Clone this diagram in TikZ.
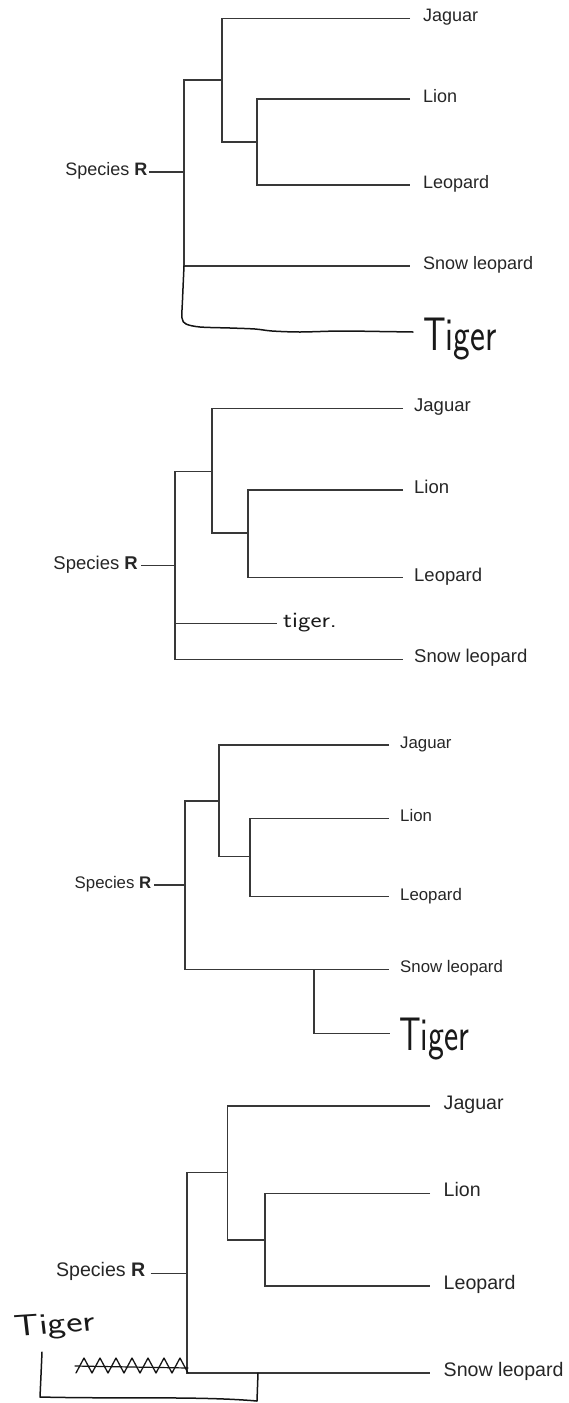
\documentclass[tikz,border=0pt]{standalone}
\usepackage{fontspec}
\setmainfont{Liberation Sans}
\newcommand{\labsz}[1]{\fontsize{#1}{#1}\selectfont}
\tikzset{
  tree/.style={line width=1.2pt, draw=black!78},
  hand/.style={line width=1.5pt, draw=black!92, line cap=round, line join=round},
  leaf/.style={anchor=west, inner ysep=0pt, text height=0.716em, text depth=0pt, text=black!85},
  spec/.style={anchor=east, inner ysep=0pt, text height=0.716em, text depth=0pt, text=black!85},
  handtxt/.style={inner sep=0pt, anchor=base west, text=black!90},
}
\begin{document}
\begin{tikzpicture}[x=1pt,y=-1pt]
\useasboundingbox (0,0) rectangle (569,1403);

% ---------- Panel 1 ----------
\begin{scope}[every node/.append style={font=\labsz{18}}]
\node[leaf, inner xsep=13pt] (a-jag)  at (410,18.3) {Jaguar};
\node[leaf, inner xsep=13pt] (a-lion) at (410,99)   {Lion};
\node[leaf, inner xsep=13pt] (a-leo)  at (410,185)  {Leopard};
\node[leaf, inner xsep=13pt] (a-snow) at (410,266)  {Snow leopard};
\node[spec, inner xsep=1.5pt] (a-sp)  at (149,172)  {Species \textbf{R}};
\end{scope}
\coordinate (a-j) at (222,142);
\coordinate (a-l) at (257,142);
\coordinate (a-t) at (222,80);
\coordinate (a-s) at (184,266);
\draw[tree] (a-jag.west) -| (a-j) -- (a-l);
\draw[tree] (a-lion.west) -| (a-l) |- (a-leo.west);
\draw[tree] (a-t) -| (a-s) -- (a-snow.west);
\draw[tree] (a-sp.east) -- (a-sp.east -| a-s);
\coordinate (a-te) at (413,332);
\node[handtxt, font=\sffamily\labsz{47}, xscale=0.755] (a-tiger) at (423,350) {Tiger};
\draw[hand] plot[smooth, tension=0.5] coordinates {(a-s) (182.5,300) (182,318) (186,324) (200,327) (230,328) (255,329) (272,331) (300,332) (340,331) (380,331.5) (a-te)};

% ---------- Panel 2 ----------
\begin{scope}[every node/.append style={font=\labsz{18.5}}]
\node[leaf, inner xsep=11pt] (b-jag)  at (403,408.3) {Jaguar};
\node[leaf, inner xsep=11pt] (b-lion) at (403,490)   {Lion};
\node[leaf, inner xsep=11pt] (b-leo)  at (403,577.7) {Leopard};
\node[leaf, inner xsep=11pt] (b-snow) at (403,659.3) {Snow leopard};
\node[spec, inner xsep=3pt] (b-sp)    at (141,565.7) {Species \textbf{R}};
\end{scope}
\coordinate (b-j) at (212,533);
\coordinate (b-l) at (248,533);
\coordinate (b-t) at (212,471.7);
\coordinate (b-s) at (175,659.3);
\draw[tree] (b-jag.west) -| (b-j) -- (b-l);
\draw[tree] (b-lion.west) -| (b-l) |- (b-leo.west);
\draw[tree] (b-t) -| (b-s) -- (b-snow.west);
\draw[tree] (b-sp.east) -- (b-sp.east -| b-s);
\coordinate (b-tg) at (175,623.3);
\coordinate (b-te) at (277,623.3);
\draw[tree] (b-tg) -- (b-te);
\node[handtxt, font=\sffamily\labsz{22}, xscale=1.2] (b-tiger) at (283,627) {tiger.};

% ---------- Panel 3 ----------
\begin{scope}[every node/.append style={font=\labsz{16.8}}]
\node[leaf, inner xsep=11pt] (c-jag)  at (389,745)   {Jaguar};
\node[leaf, inner xsep=11pt] (c-lion) at (389,818.3) {Lion};
\node[leaf, inner xsep=11pt] (c-leo)  at (389,896.7) {Leopard};
\node[leaf, inner xsep=11pt] (c-snow) at (389,969.3) {Snow leopard};
\node[spec, inner xsep=2.5pt] (c-sp)  at (154,885)   {Species \textbf{R}};
\end{scope}
\coordinate (c-j) at (219,856.7);
\coordinate (c-l) at (250,856.7);
\coordinate (c-t) at (219,801);
\coordinate (c-s) at (185,969.3);
\draw[tree] (c-jag.west) -| (c-j) -- (c-l);
\draw[tree] (c-lion.west) -| (c-l) |- (c-leo.west);
\draw[tree] (c-t) -| (c-s) -- (c-snow.west);
\draw[tree] (c-sp.east) -- (c-sp.east -| c-s);
\coordinate (c-h) at (314,969.3);
\coordinate (c-he) at (390,1033.3);
\draw[tree, line width=1.4pt] (c-h) |- (c-he);
\node[handtxt, font=\sffamily\labsz{47}, xscale=0.72] (c-tiger) at (399,1050) {Tiger};

% ---------- Panel 4 ----------
\begin{scope}[every node/.append style={font=\labsz{19.6}}]
\node[leaf, inner xsep=13.5pt] (d-jag)  at (430,1106)   {Jaguar};
\node[leaf, inner xsep=13.5pt] (d-lion) at (430,1193.3) {Lion};
\node[leaf, inner xsep=13.5pt] (d-leo)  at (430,1286)   {Leopard};
\node[leaf, inner xsep=13.5pt] (d-snow) at (430,1373)   {Snow leopard};
\node[spec, inner xsep=5pt] (d-sp)      at (150.6,1273.3) {Species \textbf{R}};
\end{scope}
\coordinate (d-j) at (227.5,1240);
\coordinate (d-l) at (265,1240);
\coordinate (d-t) at (227.5,1172.7);
\coordinate (d-s) at (187,1373);
\draw[tree] (d-jag.west) -| (d-j) -- (d-l);
\draw[tree] (d-lion.west) -| (d-l) |- (d-leo.west);
\draw[tree] (d-t) -| (d-s) -- (d-snow.west);
\draw[tree] (d-sp.east) -- (d-sp.east -| d-s);
\node[handtxt, font=\sffamily\labsz{30}, xscale=1.3, rotate=5] (d-tiger) at (15,1336) {Tiger};
\draw[hand, line width=1.3pt] (76,1373) \foreach \k in {0,...,6} { -- ({84+16*\k},1358) -- ({92+16*\k},1373) };
\draw[hand, line width=1.2pt] (75,1366) -- (188,1368);
\draw[hand] (42,1352) -- (41,1375) -- (40,1397) .. controls (120,1399) and (200,1396) .. (257,1401) -- (258,1373);
\end{tikzpicture}
\end{document}
